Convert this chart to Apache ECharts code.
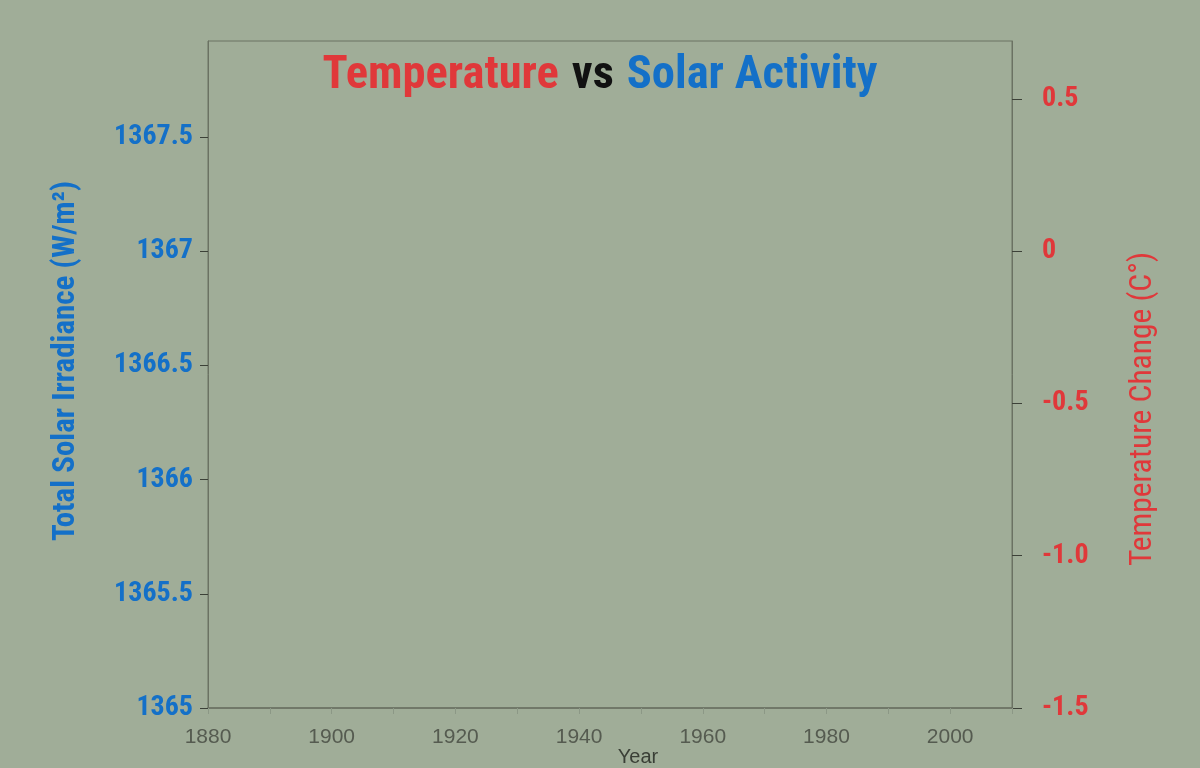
<!DOCTYPE html>
<html>
<head>
<meta charset="utf-8">
<script src="https://cdn.jsdelivr.net/npm/echarts@6/dist/echarts.min.js"></script>
<style>
html,body{margin:0;padding:0;background:#a0ad98;}
#chart{width:1200px;height:768px;}
</style>
</head>
<body>
<div id="chart"></div>
<script>
// ---- data ----
var years = [];              // no data points visible in the reference
var temperatureChange = [];  // (C°)
var solarIrradiance = [];    // (W/m²)

var xTickValues = [1880, 1890, 1900, 1910, 1920, 1930, 1940, 1950, 1960, 1970, 1980, 1990, 2000, 2010];
var xLabelValues = [1880, 1900, 1920, 1940, 1960, 1980, 2000];
var xLabels = ['1880', '1900', '1920', '1940', '1960', '1980', '2000'];

var leftTickValues = [1365, 1365.5, 1366, 1366.5, 1367, 1367.5];
var leftTickLabels = ['1365', '1365.5', '1366', '1366.5', '1367', '1367.5'];

var rightTickValues = [-1.5, -1.0, -0.5, 0, 0.5];
var rightTickLabels = ['-1.5', '-1.0', '-0.5', '0', '0.5'];

// ---- styles ----
var RED = '#e0383a';
var BLUE = '#1470c8';
var NARROW = '"Roboto Condensed", "Open Sans Condensed", sans-serif';
var AXIS = '#6b7263';

function lookup(vals, labels) {
  return function (v) {
    for (var i = 0; i < vals.length; i++) {
      if (Math.abs(vals[i] - v) < 1e-6) return labels[i];
    }
    return '';
  };
}

var chart = echarts.init(document.getElementById('chart'));
chart.setOption({
  backgroundColor: '#a0ad98',
  animation: false,
  title: {
    text: '{r|Temperature}{k|vs}{b|Solar Activity}',
    left: 'center',
    top: 48,
    textStyle: {
      rich: {
        r: { color: RED, fontFamily: NARROW, fontWeight: 'bold', fontSize: 46.5 },
        k: { color: '#111111', fontFamily: NARROW, fontWeight: 'bold', fontSize: 46.5, padding: [0, 13, 0, 13] },
        b: { color: BLUE, fontFamily: NARROW, fontWeight: 'bold', fontSize: 46.5 }
      }
    }
  },
  grid: {
    left: 208, right: 188, top: 41, bottom: 60,
    show: true, borderColor: AXIS, borderWidth: 1, backgroundColor: 'transparent'
  },
  xAxis: {
    type: 'value', min: 1880, max: 2010,
    axisLine: { show: true, onZero: false, lineStyle: { color: AXIS, width: 1.5 } },
    axisTick: { show: true, length: 6, customValues: xTickValues, lineStyle: { color: '#8c9886' } },
    axisLabel: {
      customValues: xLabelValues,
      formatter: lookup(xLabelValues, xLabels),
      margin: 19, fontSize: 21, color: '#555b50', fontFamily: 'Liberation Sans, Arial, sans-serif'
    },
    splitLine: { show: false }
  },
  yAxis: [{
    type: 'value', min: 1365, max: 1367.92, position: 'left',
    axisLine: { show: true, lineStyle: { color: AXIS } },
    axisTick: { show: true, length: 8, customValues: leftTickValues, lineStyle: { color: '#3c4138' } },
    axisLabel: {
      customValues: leftTickValues,
      formatter: lookup(leftTickValues, leftTickLabels),
      margin: 15, fontSize: 28, fontWeight: 'bold', color: BLUE, fontFamily: NARROW
    },
    splitLine: { show: false }
  }, {
    type: 'value', min: -1.5, max: 0.69, position: 'right',
    axisLine: { show: true, lineStyle: { color: AXIS } },
    axisTick: { show: true, length: 10, customValues: rightTickValues, lineStyle: { color: '#3c4138' } },
    axisLabel: {
      customValues: rightTickValues,
      formatter: lookup(rightTickValues, rightTickLabels),
      margin: 30, align: 'left', fontSize: 28, fontWeight: 'bold', color: RED, fontFamily: NARROW
    },
    splitLine: { show: false }
  }],
  graphic: [{
    type: 'text', x: 638, y: 757,
    style: { text: 'Year', fill: '#3a3f36', font: '20px "Liberation Sans", Arial, sans-serif', align: 'center', verticalAlign: 'middle' }
  }, {
    type: 'text', x: 66, y: 361, rotation: Math.PI / 2,
    style: { text: 'Total Solar Irradiance (W/m\u00b2)', fill: BLUE, font: 'bold 31px ' + NARROW, align: 'center', verticalAlign: 'middle' }
  }, {
    type: 'text', x: 1143, y: 409, rotation: Math.PI / 2,
    style: { text: 'Temperature Change (C\u00b0)', fill: RED, font: '31.5px ' + NARROW, align: 'center', verticalAlign: 'middle' }
  }],
  series: [{
    name: 'Total Solar Irradiance', type: 'line', yAxisIndex: 0, showSymbol: false,
    lineStyle: { color: BLUE },
    data: years.map(function (y, i) { return [y, solarIrradiance[i]]; })
  }, {
    name: 'Temperature Change', type: 'line', yAxisIndex: 1, showSymbol: false,
    lineStyle: { color: RED },
    data: years.map(function (y, i) { return [y, temperatureChange[i]]; })
  }]
});
</script>
</body>
</html>
